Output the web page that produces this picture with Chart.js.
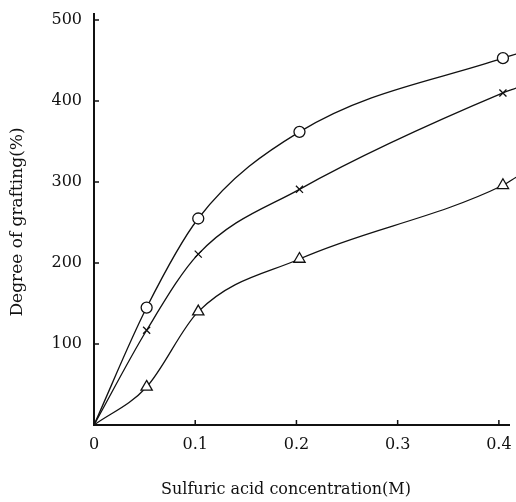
<!DOCTYPE html>
<html>
<head>
<meta charset="utf-8">
<script src="https://cdn.jsdelivr.net/npm/chart.js@4/dist/chart.umd.min.js"></script>
<style>
  html, body { margin: 0; padding: 0; background: #fff; }
  canvas { display: block; }
</style>
</head>
<body>
<canvas id="graftChart" width="516" height="502"></canvas>
<script>
// sulfuric acid concentration (M) for each measured point
const conc = [0, 0.052, 0.103, 0.203, 0.404, 0.417];
// degree of grafting (%) per curve, first point is the origin, last is the curve tail
const circleSeries = [0, 145, 255, 362, 453, 458];
const crossSeries = [0, 117, 211, 291, 410, 416];
const triangleSeries = [0, 47, 140, 205, 296, 306];
const xTicks = [0, 0.1, 0.2, 0.3, 0.4];
const yTicks = [100, 200, 300, 400, 500];

const ink = "#111";
const serif = "'DejaVu Serif', 'Liberation Serif', serif";

function points(values) {
  return values.map((y, i) => ({ x: conc[i], y }));
}

// markers only on measured points, not on origin or tail
function radii(r) {
  return conc.map((_, i) => (i === 0 || i === conc.length - 1 ? 0 : r));
}

function series(values, style, r) {
  return {
    data: points(values),
    showLine: true,
    borderColor: ink,
    borderWidth: 1.3,
    cubicInterpolationMode: "monotone",
    pointStyle: style,
    pointRadius: radii(r),
    pointBorderColor: ink,
    pointBorderWidth: 1.3,
    pointBackgroundColor: "#fff",
    clip: false,
  };
}

// small tick marks pointing into the plot, plus the axis titles
const axisDecor = {
  id: "axisDecor",
  afterDraw(chart) {
    const { ctx, chartArea, scales } = chart;
    ctx.save();
    ctx.strokeStyle = ink;
    ctx.lineWidth = 1.5;
    ctx.beginPath();
    xTicks.slice(1).forEach((v) => {
      const px = scales.x.getPixelForValue(v);
      ctx.moveTo(px, chartArea.bottom);
      ctx.lineTo(px, chartArea.bottom - 5);
    });
    yTicks.forEach((v) => {
      const py = scales.y.getPixelForValue(v);
      ctx.moveTo(chartArea.left, py);
      ctx.lineTo(chartArea.left + 5, py);
    });
    ctx.stroke();

    ctx.fillStyle = ink;
    ctx.font = "16px " + serif;
    ctx.textAlign = "center";
    ctx.textBaseline = "middle";
    ctx.fillText("Sulfuric acid concentration(M)", 286, 490);

    ctx.font = "17px " + serif;
    ctx.translate(18, 222);
    ctx.rotate(-Math.PI / 2);
    ctx.fillText("Degree of grafting(%)", 0, 0);
    ctx.restore();
  },
};

new Chart(document.getElementById("graftChart"), {
  type: "scatter",
  data: {
    datasets: [
      series(circleSeries, "circle", 5.5),
      series(crossSeries, "crossRot", 5),
      series(triangleSeries, "triangle", 6.5),
    ],
  },
  options: {
    responsive: false,
    animation: false,
    devicePixelRatio: 1,
    layout: { padding: { top: 12, right: 7, left: 0, bottom: 0 } },
    plugins: {
      legend: { display: false },
      tooltip: { enabled: false },
    },
    scales: {
      x: {
        type: "linear",
        min: 0,
        max: 0.41,
        afterBuildTicks: (scale) => {
          scale.ticks = xTicks.map((value) => ({ value }));
        },
        afterFit: (scale) => {
          scale.height = 77;
        },
        grid: { display: false },
        border: { display: true, color: ink, width: 2 },
        ticks: {
          color: ink,
          padding: 2,
          maxRotation: 0,
          font: { family: serif, size: 16 },
          callback: (v) => String(v),
        },
      },
      y: {
        type: "linear",
        min: 0,
        max: 508,
        afterBuildTicks: (scale) => {
          scale.ticks = yTicks.map((value) => ({ value }));
        },
        afterFit: (scale) => {
          scale.width = 94;
        },
        grid: { display: false },
        border: { display: true, color: ink, width: 2 },
        ticks: {
          color: ink,
          padding: 4,
          font: { family: serif, size: 16 },
        },
      },
    },
  },
  plugins: [axisDecor],
});
</script>
</body>
</html>
